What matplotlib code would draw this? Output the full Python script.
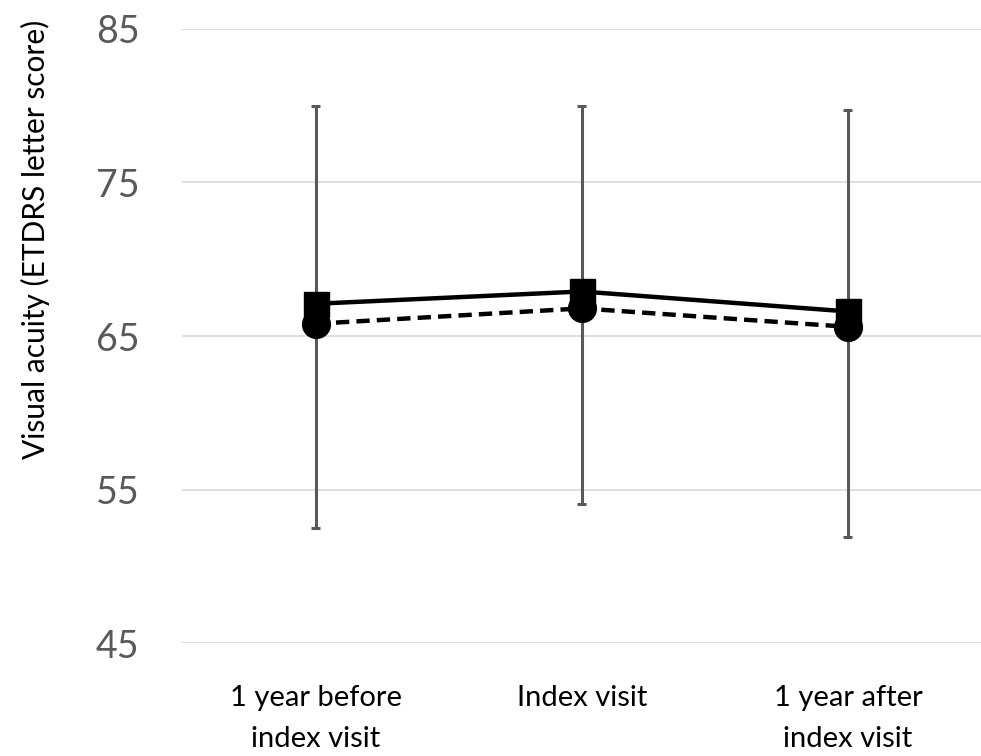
import matplotlib
matplotlib.use("Agg")
import matplotlib.pyplot as plt
import numpy as np

# data
categories = ["1 year before\nindex visit", "Index visit", "1 year after\nindex visit"]
solid_vals = [67.1, 67.9, 66.6]
dashed_vals = [65.8, 66.8, 65.6]
bar_low = [52.5, 54.1, 51.9]
bar_high = [80.0, 80.0, 79.7]
yticks = [45, 55, 65, 75, 85]

plt.rcParams['font.family'] = ['Lato', 'DejaVu Sans']

fig = plt.figure(figsize=(9.81, 7.56), dpi=100)
ax = fig.add_axes([0.186, 0.149, 0.814, 0.813])

x = np.arange(len(categories))

# error bars (gray with small caps)
ax.vlines(x, bar_low, bar_high, color='#595959', linewidth=2.2, zorder=2)
ax.hlines(bar_low, x - 0.017, x + 0.017, color='#595959', linewidth=2.2, zorder=2)
ax.hlines(bar_high, x - 0.017, x + 0.017, color='#595959', linewidth=2.2, zorder=2)

ax.plot(x, solid_vals, color='black', linewidth=3.2, marker='s', markersize=18, zorder=4)
ax.plot(x, dashed_vals, color='black', linewidth=3.2, linestyle=(0, (3, 1.6)),
        marker='o', markersize=20, zorder=3)

ax.set_xlim(-0.5, 2.5)
ax.set_ylim(45, 85)
ax.set_yticks(yticks)
ax.set_xticks(x)
ax.set_xticklabels(categories, fontsize=21, color='black', linespacing=1.7)
ax.tick_params(axis='y', labelsize=27, labelcolor='#595959', length=0, pad=31)
ax.tick_params(axis='x', length=0, pad=30)

ax.yaxis.grid(True, color='#d9d9d9', linewidth=1.2)
ax.set_axisbelow(True)
for s in ax.spines.values():
    s.set_visible(False)

fig.text(0.036, 0.683, "Visual acuity (ETDRS letter score)", fontsize=21.5,
         color='black', rotation=90, ha='center', va='center')

fig.savefig("out.png", dpi=100)
